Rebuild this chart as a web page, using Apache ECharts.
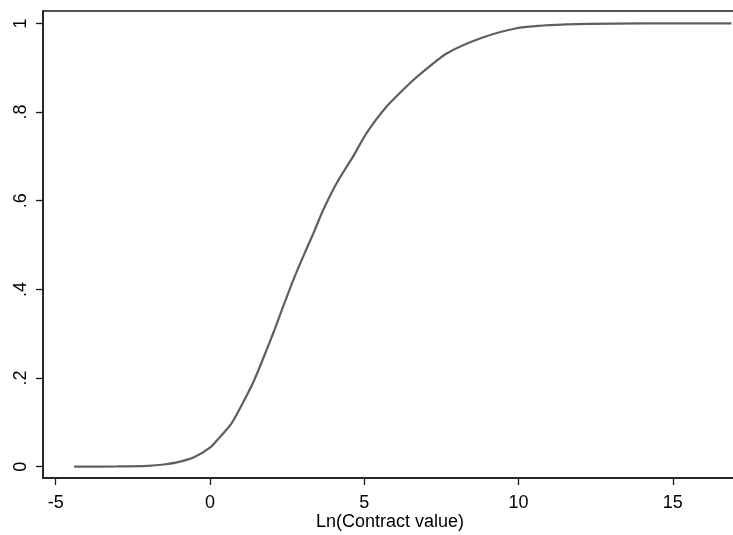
<!DOCTYPE html>
<html>
<head>
<meta charset="utf-8">
<script src="https://cdn.jsdelivr.net/npm/echarts@6/dist/echarts.min.js"></script>
<style>
  html, body { margin: 0; padding: 0; background: #fff; }
  #chart { width: 733px; height: 535px; }
</style>
</head>
<body>
<div id="chart"></div>
<script>
// Cumulative distribution of log contract value
const lnValue = [-4.4, -3.0, -2.0, -1.5, -1.0, -0.5, 0.0, 0.3, 0.7, 1.0, 1.4, 1.62, 2.05, 2.37, 2.70, 3.02, 3.35, 3.67, 4.10, 4.64, 5.07, 5.72, 6.48, 6.91, 7.67, 8.75, 9.93, 11.0, 12.3, 14.0, 16.9];
const cumShare = [0.0, 0.0005, 0.002, 0.005, 0.011, 0.022, 0.043, 0.065, 0.098, 0.135, 0.19, 0.226, 0.301, 0.361, 0.421, 0.474, 0.526, 0.579, 0.639, 0.700, 0.752, 0.812, 0.865, 0.891, 0.932, 0.966, 0.989, 0.996, 0.999, 1.0, 1.0];

const xTicks = [-5, 0, 5, 10, 15];
const yTicks = [0, 0.2, 0.4, 0.6, 0.8, 1];
const xTitle = 'Ln(Contract value)';

const fontFamily = 'Liberation Sans, Arial, sans-serif';

const chart = echarts.init(document.getElementById('chart'), null, { renderer: 'canvas' });

chart.setOption({
  animation: false,
  backgroundColor: '#ffffff',
  grid: {
    left: 43, top: 11, right: -4, bottom: 57,
    outerBoundsMode: 'none',
    show: true, borderColor: '#1a1a1a', borderWidth: 1.5
  },
  xAxis: {
    type: 'value',
    min: -5.41, max: 17.08,
    name: xTitle,
    nameLocation: 'middle',
    nameGap: 35,
    nameMoveOverlap: false,
    nameTextStyle: { fontFamily, fontSize: 18, color: '#000' },
    splitLine: { show: false },
    axisLine: { show: true, onZero: false, lineStyle: { color: '#1a1a1a', width: 1.5 } },
    axisTick: { show: true, length: 7, customValues: xTicks, lineStyle: { color: '#1a1a1a', width: 1.3 } },
    axisLabel: { customValues: xTicks, fontFamily, fontSize: 18, color: '#000', margin: 16 }
  },
  yAxis: {
    type: 'value',
    min: -0.0255, max: 1.028,
    splitLine: { show: false },
    axisLine: { show: true, onZero: false, lineStyle: { color: '#1a1a1a', width: 1.5 } },
    axisTick: { show: true, length: 7, customValues: yTicks, lineStyle: { color: '#1a1a1a', width: 1.3 } },
    axisLabel: {
      customValues: yTicks,
      rotate: 90,
      fontFamily, fontSize: 18, color: '#000', margin: 13,
      formatter: v => {
        if (Math.abs(v) < 1e-9) return '0';
        if (Math.abs(v - 1) < 1e-9) return '1';
        return '.' + Math.round(v * 10);
      }
    }
  },
  series: [{
    type: 'line',
    data: lnValue.map((x, i) => [x, cumShare[i]]),
    showSymbol: false,
    smooth: 0.25,
    lineStyle: { color: '#5f5f5f', width: 2.2 },
    clip: true
  }]
});
</script>
</body>
</html>
